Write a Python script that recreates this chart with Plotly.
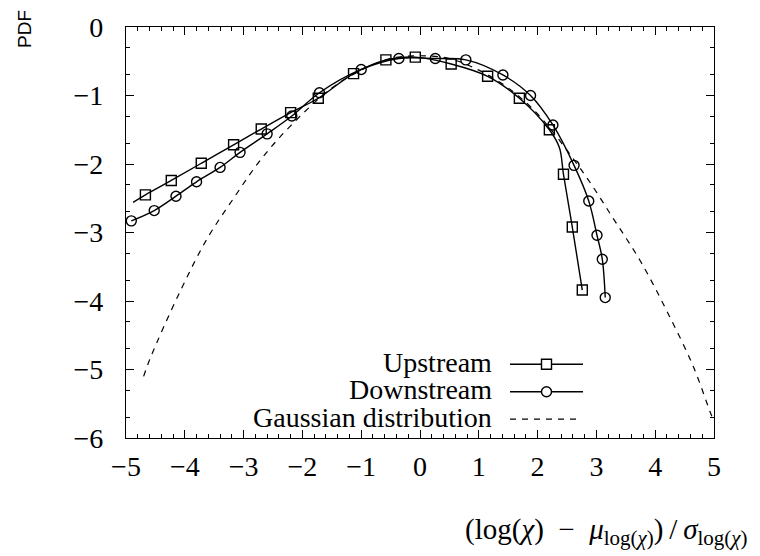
import numpy as np
import plotly.graph_objects as go

# ---------------- data ----------------
up_x = [-4.67, -4.23, -3.72, -3.17, -2.70, -2.20, -1.73, -1.13, -0.58, -0.08,
        0.53, 1.15, 1.69, 2.20, 2.44, 2.59, 2.76]
up_y = [-2.45, -2.24, -1.99, -1.72, -1.49, -1.25, -1.04, -0.68, -0.48, -0.44,
        -0.54, -0.72, -1.04, -1.50, -2.15, -2.92, -3.84]
# line of the upstream curve (includes the start before the first marker and a bend)
up_line_x = [-4.88, -4.67, -4.23, -3.72, -3.17, -2.70, -2.20, -1.73, -1.13, -0.58, -0.08,
             0.53, 1.15, 1.69, 2.20, 2.37, 2.44, 2.59, 2.76]
up_line_y = [-2.56, -2.45, -2.24, -1.99, -1.72, -1.49, -1.25, -1.04, -0.68, -0.48, -0.44,
             -0.54, -0.72, -1.04, -1.50, -1.76, -2.15, -2.92, -3.84]

dn_x = [-4.91, -4.52, -4.15, -3.80, -3.40, -3.06, -2.60, -2.18, -1.71, -1.00,
        -0.36, 0.26, 0.78, 1.41, 1.88, 2.26, 2.62, 2.87, 3.01, 3.10, 3.15]
dn_y = [-2.83, -2.68, -2.47, -2.26, -2.05, -1.83, -1.56, -1.30, -0.96, -0.62,
        -0.46, -0.46, -0.48, -0.70, -1.00, -1.43, -2.02, -2.54, -3.04, -3.39, -3.95]

gauss_x = [-4.70, -4.59, -4.08, -3.62, -3.17, -2.72, -2.21, -1.50, -1.00, -0.50, 0.00,
           0.50, 1.00, 1.50, 2.00, 2.78, 3.29, 3.75, 4.20, 4.65, 4.93, 5.00]
gauss_y = [-5.10, -4.84, -3.86, -3.09, -2.50, -1.95, -1.45, -0.89, -0.63, -0.46, -0.42,
           -0.46, -0.63, -0.89, -1.27, -2.13, -2.80, -3.42, -4.15, -4.96, -5.61, -5.76]

x_ticks = [-5, -4, -3, -2, -1, 0, 1, 2, 3, 4, 5]
y_ticks = [0, -1, -2, -3, -4, -5, -6]
legend_names = ["Upstream", "Downstream", "Gaussian distribution"]
SUB = '<sub><span style="font-size:21px">log(<i>χ</i>)</span></sub>'
x_title = ("(log(<i>χ</i>)\u2002−\u2002<i>μ</i>" + SUB + ")\u2009/\u2009<i>σ</i>" + SUB)
y_title = "PDF"

# ---------------- figure ----------------
SERIF = "Liberation Serif"
LW = 1.4

fig = go.Figure()
fig.add_trace(go.Scatter(x=gauss_x, y=gauss_y, mode="lines", line_shape="spline",
                         line=dict(color="black", width=1.2, dash="6px,6px"),
                         showlegend=False, hoverinfo="skip"))
fig.add_trace(go.Scatter(x=up_line_x, y=up_line_y, mode="lines", line_shape="spline",
                         line=dict(color="black", width=LW), showlegend=False))
fig.add_trace(go.Scatter(x=up_x, y=up_y, mode="markers",
                         marker=dict(symbol="square-open", size=10, color="black",
                                     line=dict(width=1.4)), showlegend=False))
fig.add_trace(go.Scatter(x=dn_x, y=dn_y, mode="lines+markers", line_shape="spline",
                         line=dict(color="black", width=LW),
                         marker=dict(symbol="circle-open", size=10, color="black",
                                     line=dict(width=1.4)), showlegend=False))

# minor ticks
x_minor = [v for v in np.round(np.arange(-5, 5.0001, 0.2), 2) if abs(v - round(v)) > 1e-6]
y_minor = []
for d in range(0, 6):
    y_minor += [-d - 0.30103, -d - 0.69897]

axis_common = dict(showgrid=False, zeroline=False, showline=True, linecolor="black",
                   linewidth=1.3, mirror="allticks", ticks="inside", ticklen=8,
                   tickwidth=1, tickcolor="black", ticklabeloverflow="allow",
                   tickfont=dict(family=SERIF, size=28, color="black"))
fig.update_xaxes(range=[-5, 5], tickmode="array", tickvals=x_ticks,
                 ticktext=[("−%d" % -v) if v < 0 else str(v) for v in x_ticks],
                 minor=dict(tickmode="array", tickvals=x_minor, ticks="inside",
                            ticklen=4, tickcolor="black", tickwidth=1),
                 ticklabelstandoff=3, **axis_common)
fig.update_yaxes(range=[-6, 0], tickmode="array", tickvals=y_ticks,
                 ticktext=[("−%d" % -v) if v < 0 else str(v) for v in y_ticks],
                 minor=dict(tickmode="array", tickvals=y_minor, ticks="inside",
                            ticklen=4, tickcolor="black", tickwidth=1),
                 ticklabelstandoff=16, **axis_common)

# page pixel geometry of the plot area
plot_top, plot_bot, plot_l, plot_r = 23, 438.5, 126, 714
def py2paper(py):
    return (plot_bot - py) / (plot_bot - plot_top)
def px2paper(px):
    return (px - plot_l) / (plot_r - plot_l)

# custom gnuplot-style key: text on the left, sample on the right
ann = []
shapes = []
rows_py = [364, 391.7, 419.5]
for i, name in enumerate(legend_names):
    yp = py2paper(rows_py[i])
    ann.append(dict(x=px2paper(493), y=py2paper(rows_py[i] - 2), xref="paper", yref="paper",
                    text=name, showarrow=False, xanchor="right", yanchor="middle",
                    borderpad=0,
                    font=dict(family=SERIF, size=28, color="black")))
    x0 = px2paper(510)
    x1 = px2paper(583 if i < 2 else 577)
    shapes.append(dict(type="line", xref="paper", yref="paper", x0=x0, x1=x1, y0=yp, y1=yp,
                       line=dict(color="black", width=LW if i < 2 else 1.2,
                                 dash="solid" if i < 2 else "6px,6px")))
    if i < 2:
        xc = px2paper(546.5)
        shapes.append(dict(type="rect" if i == 0 else "circle", xref="paper", yref="paper",
                           xsizemode="pixel", ysizemode="pixel", xanchor=xc, yanchor=yp,
                           x0=-5, x1=5, y0=-5, y1=5, fillcolor="white",
                           line=dict(color="black", width=1.4)))

ann.append(dict(x=px2paper(24.5), y=py2paper(25.5), xref="paper", yref="paper", text=y_title,
                textangle=-90, showarrow=False, xanchor="center", yanchor="middle",
                borderpad=0,
                font=dict(family="Liberation Sans, Arial, sans-serif", size=19, color="black")))
ann.append(dict(x=px2paper(606), y=py2paper(533), xref="paper", yref="paper", text=x_title,
                showarrow=False, xanchor="center", yanchor="middle", borderpad=0,
                font=dict(family=SERIF, size=29, color="black")))

fig.update_layout(width=760, height=556, margin=dict(l=126, r=46, t=23, b=117.5),
                  paper_bgcolor="white", plot_bgcolor="white", showlegend=False,
                  font=dict(family=SERIF, color="black"),
                  annotations=ann, shapes=shapes)

fig.write_html("out.html", config={"displayModeBar": False},
               post_script="document.body.style.margin='0px';"
                           "document.body.style.overflow='hidden';")
